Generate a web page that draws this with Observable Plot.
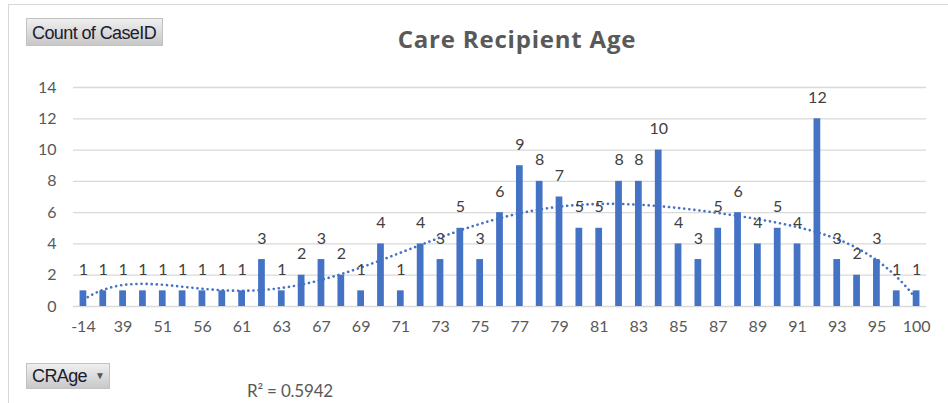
<!DOCTYPE html>
<html><head><meta charset="utf-8">
<script src="https://cdn.jsdelivr.net/npm/d3@7"></script>
<script src="https://cdn.jsdelivr.net/npm/@observablehq/plot@0.6"></script>
<style>
body{margin:0;background:#fff;}
#wrap{position:relative;width:948px;height:403px;overflow:hidden;font-family:Lato,"Open Sans",sans-serif;}
#frame{position:absolute;left:8px;top:4px;width:960px;height:420px;border-left:1px solid #d9d9d9;border-top:1px solid #d9d9d9;pointer-events:none;}
#header{position:relative;height:60px;}
#title{position:absolute;left:267px;width:500px;top:22px;text-align:center;font-family:"Open Sans",Lato,sans-serif;font-size:24px;letter-spacing:0.8px;font-weight:bold;color:#595959;white-space:nowrap;}
.btn{position:absolute;background:linear-gradient(#efefef,#c8c8c8);border:1px solid #c2c2c2;color:#1b1b2f;font-family:"Liberation Sans Narrow","Liberation Sans",sans-serif;font-size:18px;letter-spacing:-0.6px;box-sizing:border-box;white-space:nowrap;}
#btn1{left:26px;top:18px;width:137px;height:28px;padding-top:4px;padding-left:5px;}
#btn2{left:26px;top:13px;width:84px;height:26px;padding-top:2px;padding-left:5px;}
#btn2 span{font-size:10px;color:#555;position:relative;top:-3px;margin-left:8px;}
#footer{position:relative;height:53px;}
#r2{position:absolute;left:247px;top:30px;font-size:17px;letter-spacing:-0.2px;color:#595959;white-space:nowrap;}
svg{display:block;}
</style></head>
<body>
<div id="wrap">
<div id="header"><div class="btn" id="btn1">Count of CaseID</div><div id="title">Care Recipient Age</div></div>
<div id="chart"></div>
<div id="footer"><div class="btn" id="btn2">CRAge<span>▼</span></div><div id="r2"></div></div>
<div id="frame"></div>
</div>
<script>
const categories = ["-14","33","39","45","51","53","56","58","61","62","63","65","67","68","69","70","71","72","73","74","75","76","77","78","79","80","81","82","83","84","85","86","87","88","89","90","91","92","93","94","95","97","100"];
const counts = [1,1,1,1,1,1,1,1,1,3,1,2,3,2,1,4,1,4,3,5,3,6,9,8,7,5,5,8,8,10,4,3,5,6,4,5,4,12,3,2,3,1,1];
const yTicks = [0,2,4,6,8,10,12,14];
const trendOrder = 6;

const data = categories.map((c,k)=>({i:k+1, cat:c, count:counts[k]}));

function polyfit(xs, ys, deg){
  const n = deg+1, s = xs.length;
  const A = Array.from({length:n},()=>new Array(n+1).fill(0));
  for(let k=0;k<s;k++){
    const t = xs[k]/s;
    const p = []; for(let j=0;j<n;j++) p.push(Math.pow(t,j));
    for(let r=0;r<n;r++){ for(let c=0;c<n;c++) A[r][c]+=p[r]*p[c]; A[r][n]+=p[r]*ys[k]; }
  }
  for(let c=0;c<n;c++){
    let piv=c; for(let r=c+1;r<n;r++) if(Math.abs(A[r][c])>Math.abs(A[piv][c])) piv=r;
    [A[c],A[piv]]=[A[piv],A[c]];
    for(let r=0;r<n;r++){ if(r===c) continue; const f=A[r][c]/A[c][c]; for(let k=c;k<=n;k++) A[r][k]-=f*A[c][k]; }
  }
  const coef = A.map((row,r)=>row[n]/row[r]);
  const f = x => { const t=x/s; let v=0; for(let j=n-1;j>=0;j--) v=v*t+coef[j]; return v; };
  const mean = d3.mean(ys);
  let ssr=0, sst=0; xs.forEach((x,k)=>{ssr+=(ys[k]-f(x))**2; sst+=(ys[k]-mean)**2;});
  return {f, r2:1-ssr/sst};
}
const xs = data.map(d=>d.i), ys = data.map(d=>d.count);
const fit = polyfit(xs, ys, trendOrder);
const trend = d3.range(1, 43.001, 0.1).map(x=>({x, y:fit.f(x)}));
document.getElementById("r2").textContent = "R² = " + fit.r2.toFixed(4);

const chart = Plot.plot({
  width:948, height:290,
  marginLeft:73, marginRight:22, marginTop:27, marginBottom:44,
  x:{type:"linear", domain:[0.5,43.5]},
  y:{domain:[0,14]},
  style:{fontFamily:"Lato, 'Open Sans', sans-serif", fontSize:"16px", color:"#595959", background:"transparent"},
  marks:[
    Plot.ruleY(yTicks, {stroke:"#d9d9d9", strokeWidth:1.3}),
    Plot.axisY(yTicks, {tickSize:0, tickPadding:17, label:null, fontSize:16}),
    Plot.axisX(data.filter((d,k)=>k%2===0).map(d=>d.i), {tickSize:0, tickPadding:14, label:null, fontSize:16, tickFormat:i=>categories[i-1]}),
    Plot.rectY(data, {x1:d=>d.i-0.17, x2:d=>d.i+0.17, y:"count", fill:"#4472C4"}),
    Plot.line(trend, {x:"x", y:"y", stroke:"#4472C4", strokeWidth:2.6, strokeDasharray:"0.1 5", strokeLinecap:"round"}),
    Plot.text(data, {x:"i", y:"count", text:d=>String(d.count), dy:-21, fill:"#404040", fontSize:16})
  ]
});
document.getElementById("chart").appendChild(chart);
</script>
</body></html>
